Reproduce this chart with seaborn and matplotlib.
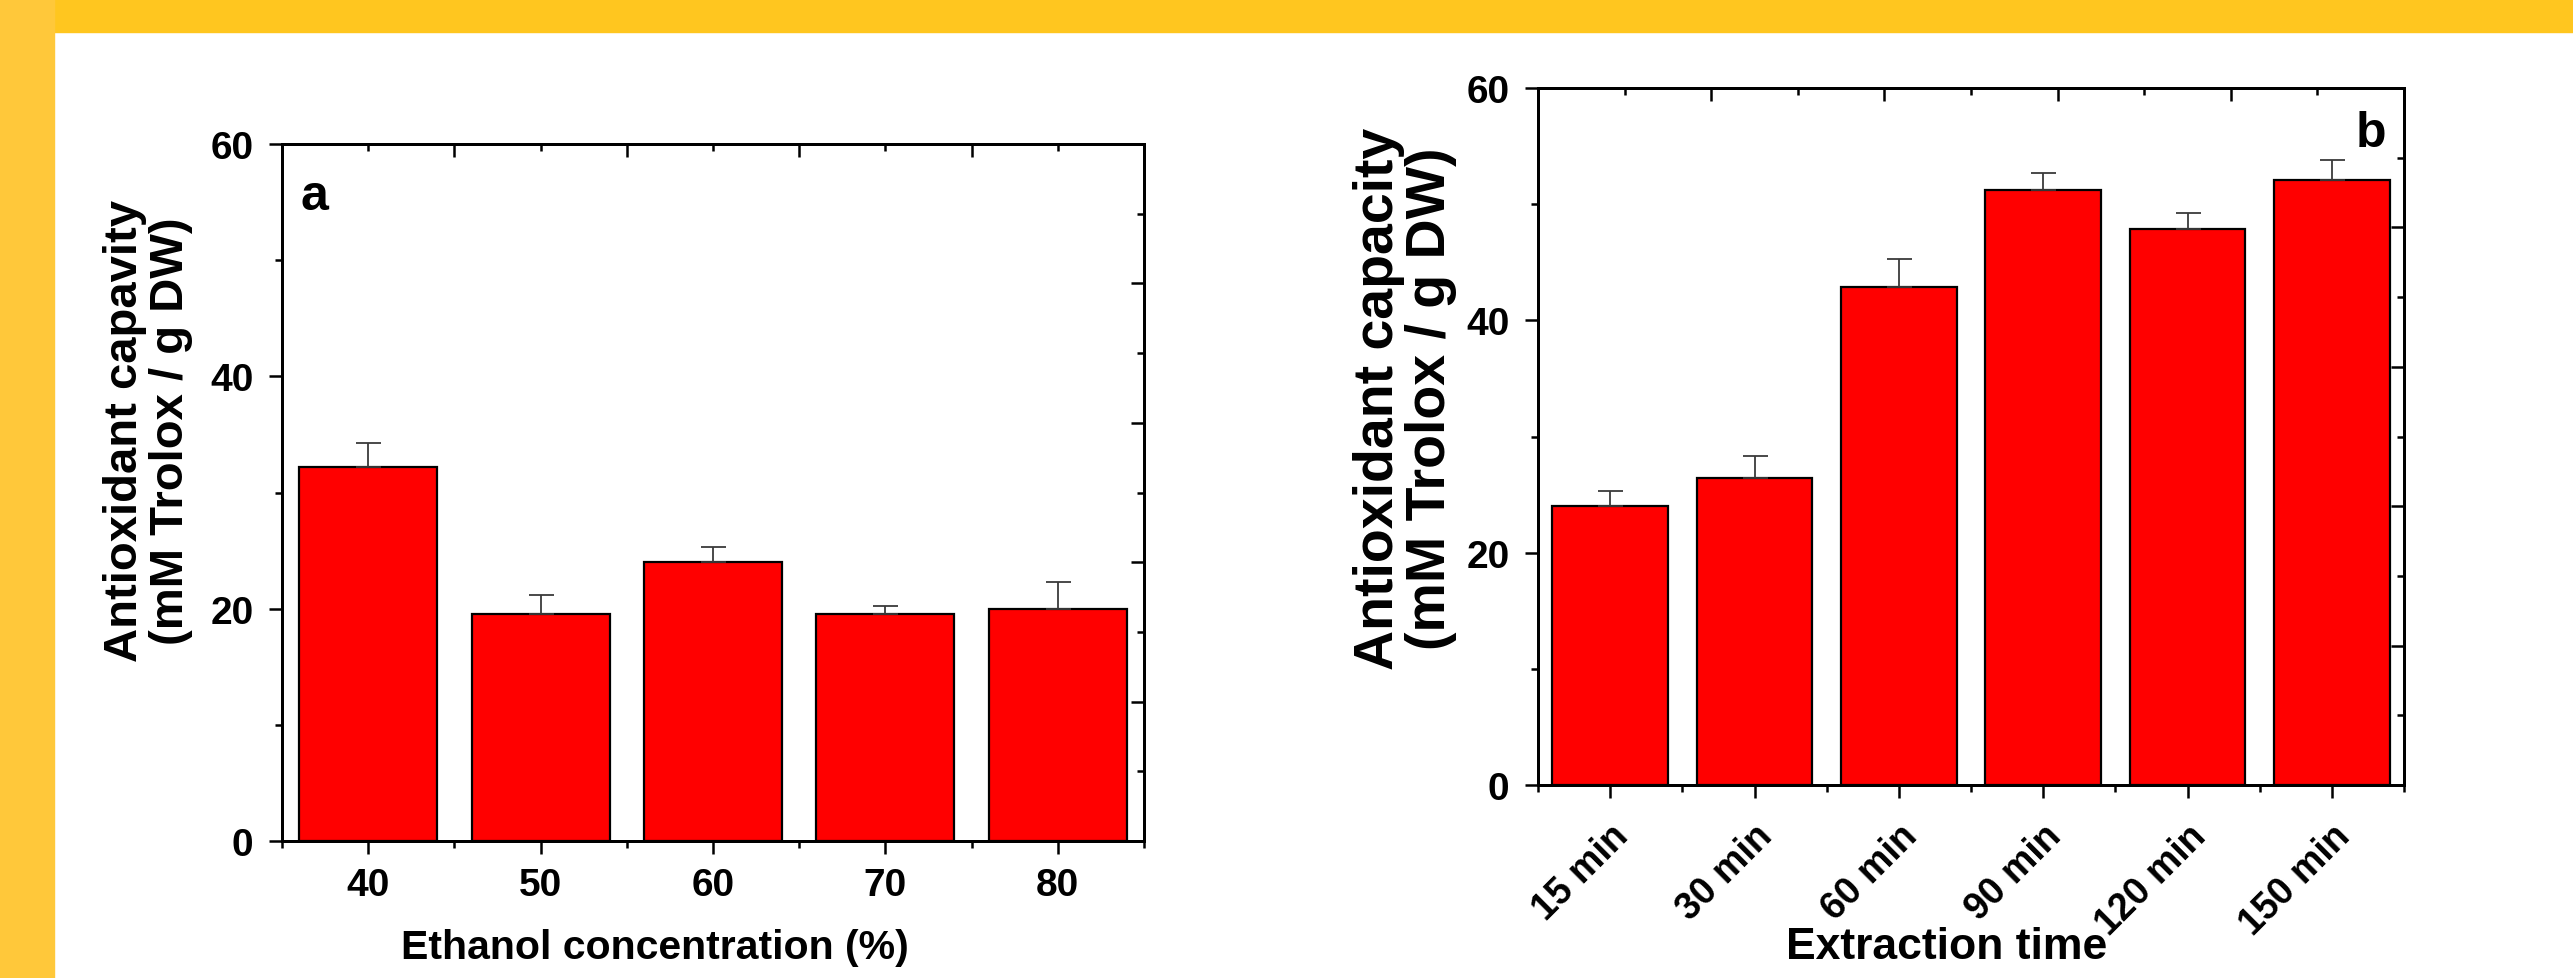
import matplotlib
matplotlib.use("Agg")
import matplotlib.pyplot as plt
from matplotlib.patches import Rectangle
import seaborn as sns

# ---- data ----
conc_labels = ["40", "50", "60", "70", "80"]
conc_mean = [32.2, 19.5, 24.0, 19.5, 20.0]
conc_err = [2.1, 1.7, 1.3, 0.7, 2.3]

time_labels = ["15 min", "30 min", "60 min", "90 min", "120 min", "150 min"]
time_mean = [24.0, 26.4, 42.9, 51.2, 47.9, 52.1]
time_err = [1.3, 1.9, 2.4, 1.5, 1.3, 1.7]

y_major = [0, 20, 40, 60]
y_minor = [10, 30, 50]

# ---- style ----
sns.set_style("ticks")
plt.rcParams["font.family"] = ["Liberation Sans", "DejaVu Sans"]
plt.rcParams["font.weight"] = "bold"
plt.rcParams["axes.labelweight"] = "bold"
plt.rcParams["axes.edgecolor"] = "black"
plt.rcParams["xtick.color"] = "black"
plt.rcParams["ytick.color"] = "black"
plt.rcParams["text.color"] = "black"
plt.rcParams["axes.labelcolor"] = "black"

W, H = 2573, 979
fig = plt.figure(figsize=(W / 100, H / 100), dpi=100)
fig.patch.set_facecolor("white")

# yellow frame (top and left)
fig.patches.append(Rectangle((0, 1 - 33 / H), 1, 33 / H, transform=fig.transFigure,
                             color="#FFC61F", zorder=0))
fig.patches.append(Rectangle((0, 0), 54 / W, 1, transform=fig.transFigure,
                             color="#FFC83A", zorder=0))

ax_a = fig.add_axes([282 / W, 1 - 842 / H, 862 / W, 697 / H])
ax_b = fig.add_axes([1538 / W, 1 - 786 / H, 866 / W, 697 / H])

MAJ_LEN, MIN_LEN, TW = 9.5, 5, 1.8


def draw_panel(ax, labels, means, errs, rot):
    n = len(labels)
    # extra Origin-style top/right axes with their own scale
    ty = ax.twinx()
    tx = ax.twiny()
    tx.set_xlim(0, 10)
    tx.set_xticks([2, 4, 6, 8])
    tx.set_xticks([1, 3, 5, 7, 9], minor=True)
    tx.tick_params(axis="x", which="both", direction="in", top=True,
                   bottom=False, labeltop=False, labelbottom=False, width=TW)
    tx.tick_params(axis="x", which="major", length=MAJ_LEN)
    tx.tick_params(axis="x", which="minor", length=MIN_LEN)
    ty.set_ylim(0, 10)
    ty.set_yticks([2, 4, 6, 8])
    ty.set_yticks([1, 3, 5, 7, 9], minor=True)
    ty.tick_params(axis="y", which="both", direction="in", right=True,
                   left=False, labelright=False, labelleft=False, width=TW)
    ty.tick_params(axis="y", which="major", length=MAJ_LEN)
    ty.tick_params(axis="y", which="minor", length=MIN_LEN)
    for t in (tx, ty):
        for s in t.spines.values():
            s.set_linewidth(2)

    sns.barplot(x=labels, y=means, color="#FF0000", saturation=1, width=0.8,
                edgecolor="black", linewidth=1.6, errorbar=None, ax=ax, zorder=2)
    ax.errorbar(range(n), means, yerr=[[0] * n, errs], fmt="none",
                ecolor="#3a3a3a", elinewidth=1.3, capsize=9, capthick=1.3, zorder=3)

    ax.set_xlim(-0.5, n - 0.5)
    ax.set_ylim(0, 60)
    ax.set_yticks(y_major)
    ax.set_yticks(y_minor, minor=True)
    ax.set_xticks([i - 0.5 for i in range(n + 1)], minor=True)
    ax.tick_params(which="both", direction="out", width=TW, top=False, right=False)
    ax.tick_params(which="major", length=MAJ_LEN, labelsize=28)
    ax.tick_params(which="minor", length=MIN_LEN)
    ax.tick_params(axis="y", pad=11)
    if rot:
        ax.tick_params(axis="x", pad=14, labelsize=27)
        for lab in ax.get_xticklabels():
            lab.set_rotation(45)
            lab.set_ha("right")
            lab.set_va("top")
            lab.set_rotation_mode("anchor")
    else:
        ax.tick_params(axis="x", pad=9)
    for s in ax.spines.values():
        s.set_linewidth(2)
        s.set_visible(True)


draw_panel(ax_a, conc_labels, conc_mean, conc_err, rot=False)
draw_panel(ax_b, time_labels, time_mean, time_err, rot=True)

ax_a.set_ylabel("Antioxidant capavity\n(mM Trolox / g DW)", fontsize=34,
                linespacing=1.06, va="center")
ax_a.yaxis.set_label_coords(-0.155, 0.59)
ax_a.set_xlabel("Ethanol concentration (%)", fontsize=29.5, va="center")
ax_a.xaxis.set_label_coords(0.433, -0.152)
ax_a.text(0.021, 0.907, "a", transform=ax_a.transAxes, fontsize=36,
          ha="left", va="baseline")

ax_b.set_ylabel("Antioxidant capacity\n(mM Trolox / g DW)", fontsize=40,
                linespacing=1.0, va="center")
ax_b.yaxis.set_label_coords(-0.154, 0.556)
ax_b.set_xlabel("Extraction time", fontsize=32, va="center")
ax_b.xaxis.set_label_coords(0.472, -0.232)
ax_b.text(0.98, 0.917, "b", transform=ax_b.transAxes, fontsize=36,
          ha="right", va="baseline")

fig.savefig("out.png", dpi=100)
